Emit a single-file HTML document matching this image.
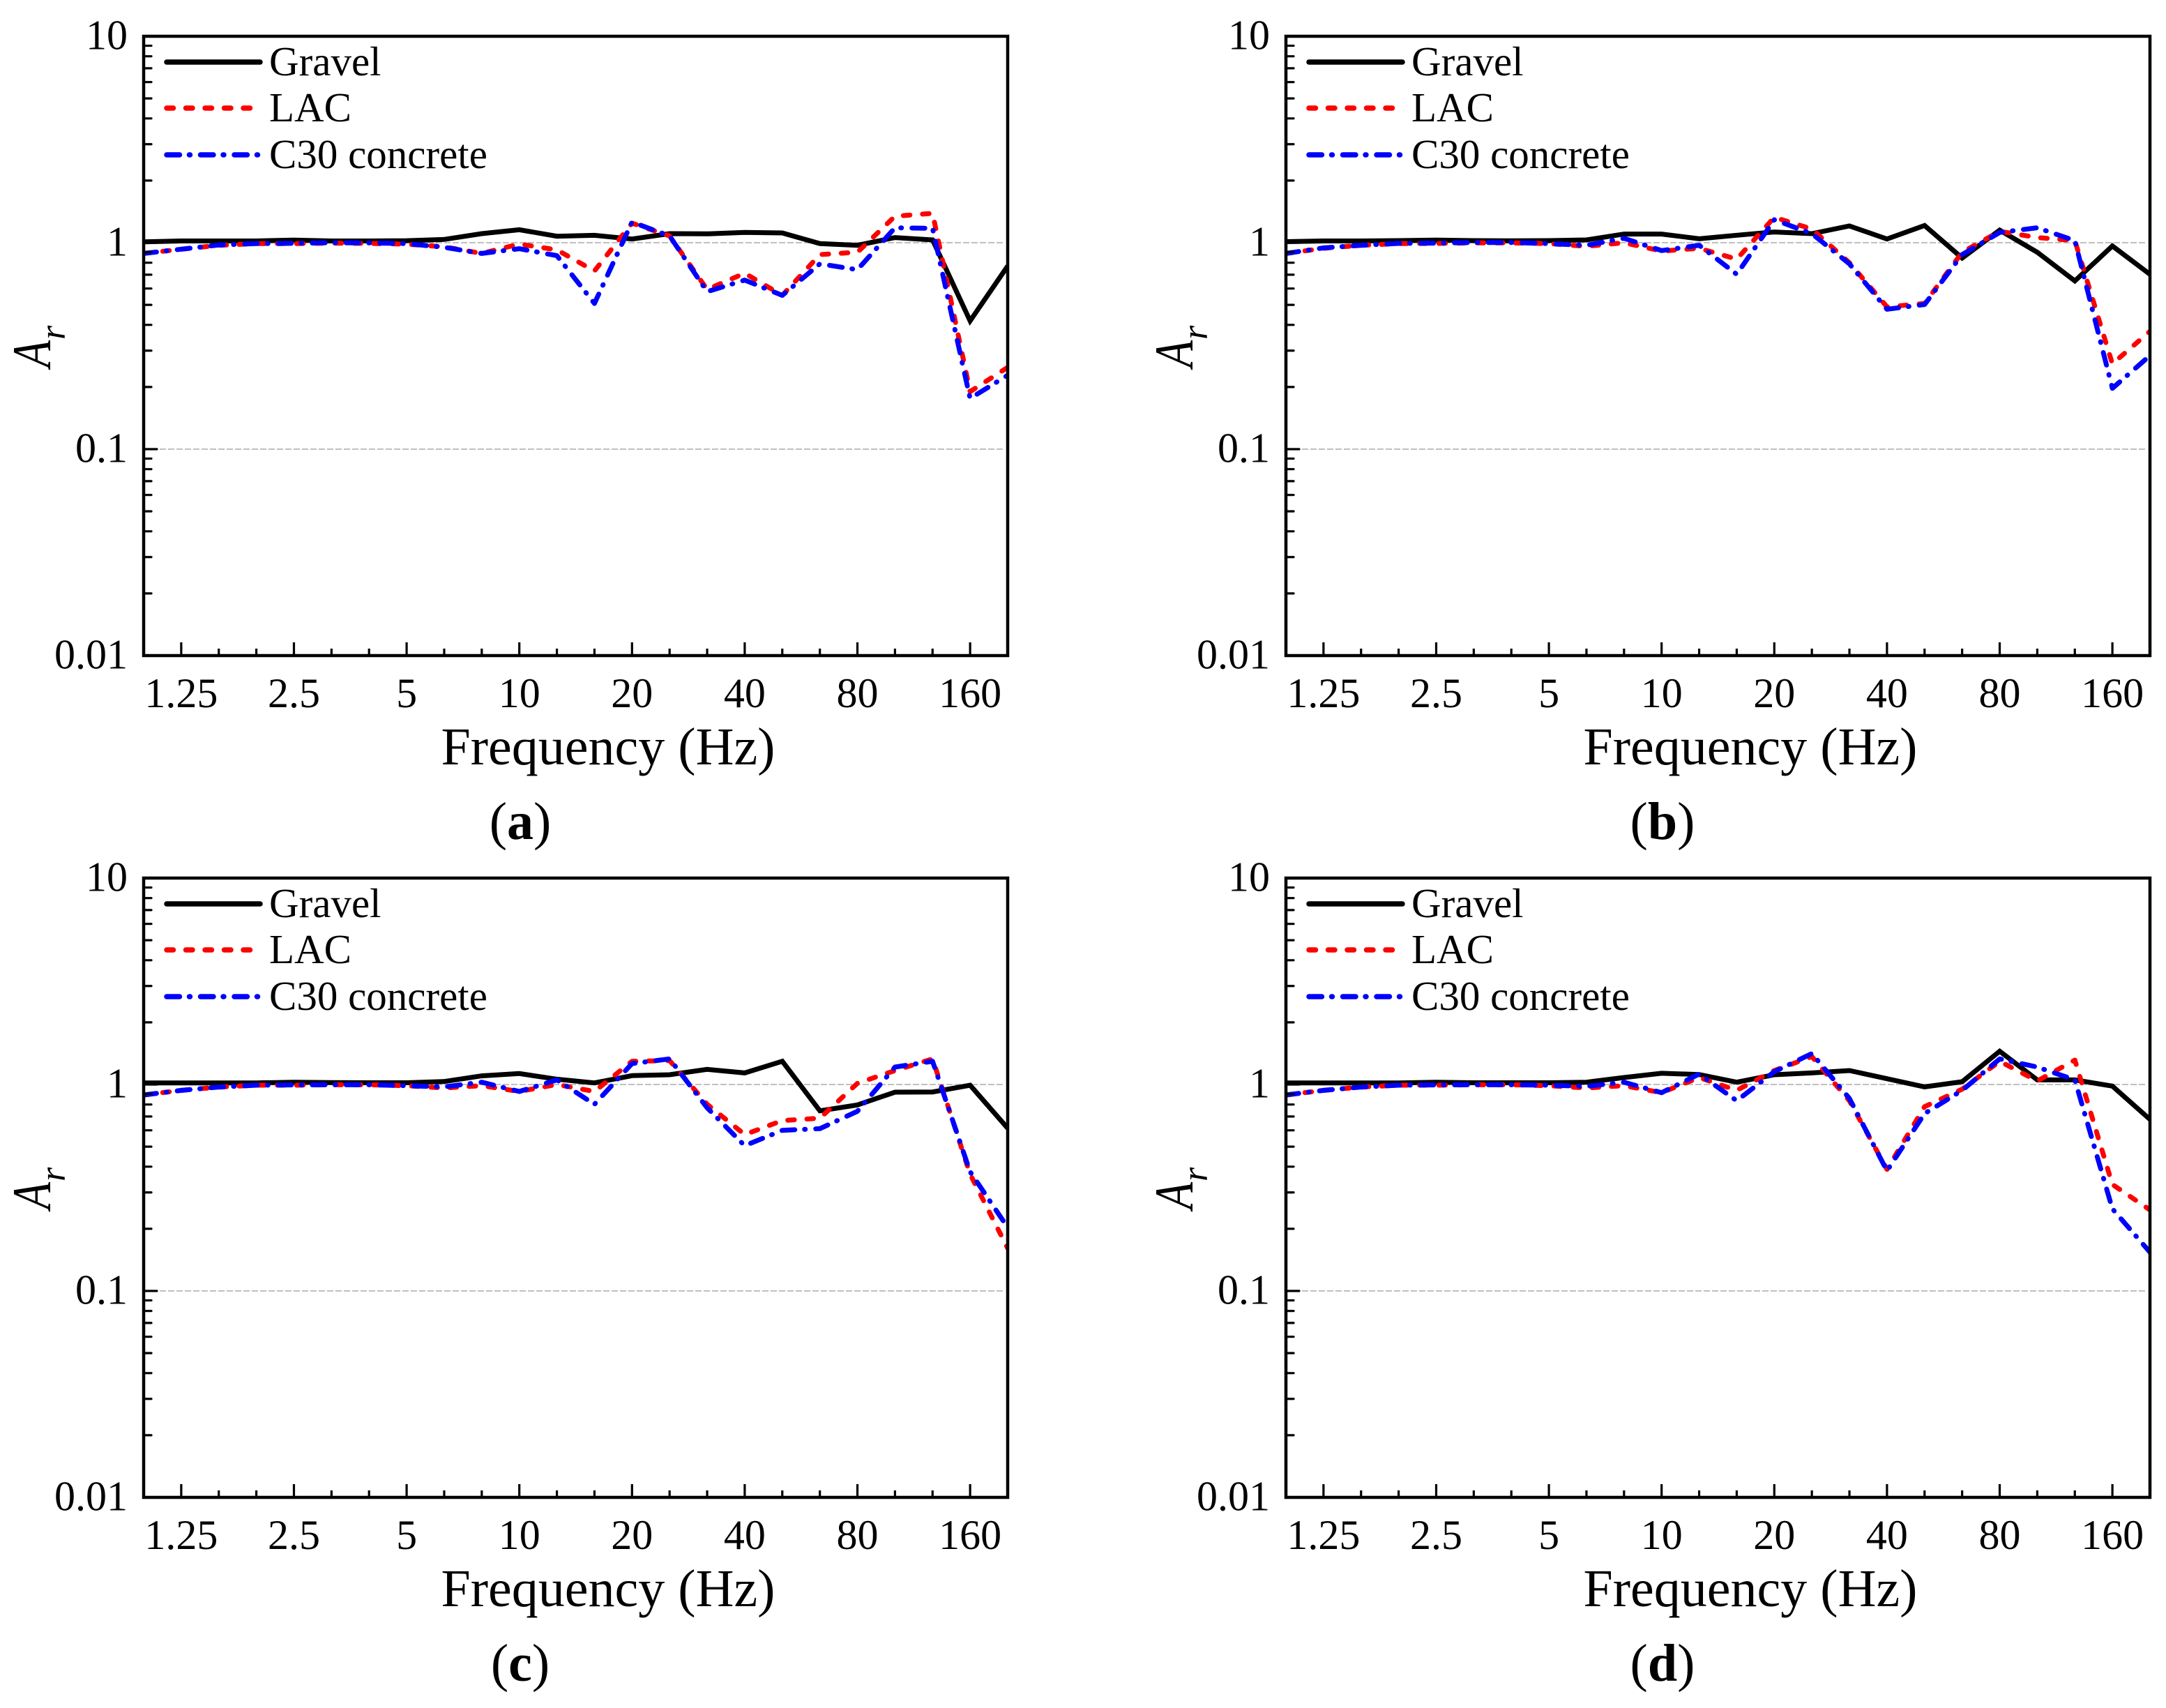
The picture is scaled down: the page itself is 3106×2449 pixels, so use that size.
<!DOCTYPE html>
<html lang="en">
<head>
<meta charset="utf-8">
<title>Frequency response of Ar for gravel, LAC and C30 concrete</title>
<style>
html,body{margin:0;padding:0;background:#fff}
svg{display:block}
text{font-family:"Liberation Serif","Times New Roman",serif;fill:#000}
</style>
</head>
<body>
<svg id="figure" xmlns="http://www.w3.org/2000/svg" width="3106" height="2449" viewBox="0 0 3106 2449"></svg>
<script>
// Data: one-third-octave frequency bands (Hz)
const frequencies = [1,1.25,1.6,2,2.5,3.15,4,5,6.3,8,10,12.5,16,20,25,31.5,40,50,63,80,100,125,160,200];
const xTickLabels = ['1.25','2.5','5','10','20','40','80','160'];
const xTickValues = [1.25,2.5,5,10,20,40,80,160];
const yTickValues = [10,1,0.1,0.01];
const yTickLabels = ['10','1','0.1','0.01'];
const gridValues = [1,0.1];
const seriesNames = ['Gravel','LAC','C30 concrete'];

const gravelA = [1.01,1.02,1.02,1.02,1.03,1.02,1.02,1.023,1.037,1.106,1.156,1.075,1.086,1.042,1.106,1.104,1.121,1.115,0.99,0.972,1.059,1.032,0.418,0.771];
const lacA = [0.887,0.93,0.972,0.99,0.99,0.995,0.992,0.984,0.955,0.887,0.985,0.923,0.73,1.243,1.078,0.594,0.712,0.556,0.876,0.899,1.344,1.387,0.19,0.249];
const c30A = [0.887,0.93,0.975,0.99,0.993,1,0.998,0.99,0.95,0.887,0.935,0.865,0.508,1.259,1.078,0.579,0.659,0.556,0.79,0.74,1.181,1.174,0.176,0.228];

const gravelB = [1.012,1.02,1.02,1.024,1.029,1.024,1.021,1.024,1.032,1.101,1.101,1.045,1.087,1.127,1.106,1.205,1.042,1.212,0.843,1.15,0.899,0.653,0.964,0.703];
const lacB = [0.887,0.94,0.972,0.99,0.992,0.998,0.998,0.99,0.96,1,0.911,0.94,0.832,1.327,1.165,0.8,0.489,0.508,0.899,1.135,1.059,1.024,0.259,0.372];
const c30B = [0.887,0.944,0.972,0.992,0.995,1.002,1.002,0.99,0.972,1.05,0.916,0.972,0.703,1.292,1.106,0.79,0.476,0.502,0.876,1.121,1.181,1.024,0.197,0.284];

const gravelC = [1.018,1.018,1.018,1.018,1.026,1.022,1.02,1.02,1.034,1.101,1.13,1.061,1.018,1.104,1.115,1.184,1.138,1.296,0.746,0.796,0.918,0.92,0.992,0.614];
const lacC = [0.89,0.937,0.972,0.992,0.992,0.997,0.997,0.987,0.962,0.987,0.925,1,0.925,1.296,1.306,0.802,0.572,0.669,0.687,1.013,1.168,1.33,0.368,0.161];
const c30C = [0.89,0.937,0.972,0.992,0.995,0.997,0.997,0.987,0.974,1.026,0.925,1.053,0.802,1.263,1.33,0.771,0.505,0.6,0.611,0.742,1.215,1.296,0.378,0.203];

const gravelD = [1.018,1.018,1.018,1.018,1.026,1.02,1.02,1.02,1.026,1.081,1.133,1.118,1.026,1.115,1.138,1.168,1.067,0.974,1.032,1.449,1.053,1.053,0.982,0.678];
const lacD = [0.89,0.937,0.972,0.992,0.992,0.997,0.997,0.987,0.962,0.987,0.913,1.081,0.937,1.168,1.365,0.834,0.388,0.781,0.949,1.296,1.04,1.313,0.328,0.247];
const c30D = [0.89,0.937,0.972,0.992,0.995,0.997,0.997,0.992,0.98,1.026,0.913,1.124,0.834,1.153,1.412,0.856,0.382,0.723,0.937,1.33,1.215,1.053,0.25,0.154];

const panelLetters = ['a','b','c','d'];
const panelGravel = [gravelA,gravelB,gravelC,gravelD];
const panelLac = [lacA,lacB,lacC,lacD];
const panelC30 = [c30A,c30B,c30C,c30D];

// Layout
const NS = 'http://www.w3.org/2000/svg';
const root = document.getElementById('figure');
const plotW = 1239, plotH = 888;
const originsX = [206,1844,206,1844];
const originsY = [52,52,1259,1259];

function make(tag, attrs, parent, txt){
  const el = document.createElementNS(NS, tag);
  for (const k in attrs) el.setAttribute(k, attrs[k]);
  if (txt !== undefined) el.textContent = txt;
  parent.appendChild(el);
  return el;
}
// Axis functions (panel-local pixels): categorical third-octave x, log10 y
function xOfIndex(i){ return i / (frequencies.length - 1) * plotW; }
function yScale(v){ return (1 - Math.log10(v)) / 3 * plotH; }

const lineStyles = [
  {stroke:'#000000', width:7, dash:'', cap:'butt', key:'gravel'},
  {stroke:'#ff0000', width:7, dash:'9.5 18', cap:'round', key:'lac'},
  {stroke:'#0000ff', width:7, dash:'18.5 14 1 15', cap:'round', key:'c30-concrete'}
];

panelLetters.forEach(function(letter, p){
  const g = make('g', {transform:'translate('+originsX[p]+','+originsY[p]+')'}, root);
  
  

  const clipId = 'clip-' + letter;
  const defs = make('defs', {}, g);
  const cp = make('clipPath', {id:clipId}, defs);
  make('rect', {x:0, y:0, width:plotW, height:plotH}, cp);

  // gridlines
  gridValues.forEach(function(v){
    const grid = make('line', {x1:23, x2:plotW-4, y1:yScale(v), y2:yScale(v), stroke:'#c0c0c0', 'stroke-width':2, 'stroke-dasharray':'9 3'}, g);
    
    
  });

  // series
  const seriesData = [panelGravel[p], panelLac[p], panelC30[p]];
  seriesData.forEach(function(values, s){
    const st = lineStyles[s];
    const pts = values.map(function(v, i){ return xOfIndex(i).toFixed(1) + ',' + yScale(v).toFixed(1); }).join(' ');
    const attrs = {points:pts, fill:'none', stroke:st.stroke, 'stroke-width':st.width, 'stroke-linecap':st.cap, 'stroke-linejoin':'round', 'clip-path':'url(#'+clipId+')'};
    if (st.dash) attrs['stroke-dasharray'] = st.dash;
    if (s === 0) attrs['stroke-linejoin'] = 'miter';
    const line = make('polyline', attrs, g);
    
    
  });

  // y minor/major ticks
  for (let d = 0; d < 3; d++){
    for (let m = 2; m <= 9; m++){
      const v = Math.pow(10, d - 2) * m;
      const t = make('line', {x1:0, x2:11, y1:yScale(v), y2:yScale(v), stroke:'#000', 'stroke-width':3.2, 'stroke-linecap':'round'}, g);
      
      
    }
  }
  yTickValues.forEach(function(v, i){
    const t = make('line', {x1:0, x2:19, y1:yScale(v), y2:yScale(v), stroke:'#000', 'stroke-width':3.2, 'stroke-linecap':'round'}, g);
    
    
    const lb = make('text', {x:-23, y:yScale(v)+18.5, 'text-anchor':'end', 'font-size':60}, g, yTickLabels[i]);
    
    
  });

  // x ticks
  frequencies.forEach(function(f, i){
    if (i === 0 || i === frequencies.length - 1) return;
    const major = xTickValues.indexOf(f) >= 0;
    const t = make('line', {x1:xOfIndex(i), x2:xOfIndex(i), y1:plotH, y2:plotH-(major?19:10), stroke:'#000', 'stroke-width':3.2}, g);
    
    
  });
  xTickValues.forEach(function(f, i){
    const idx = frequencies.indexOf(f);
    const lb = make('text', {x:xOfIndex(idx), y:plotH+74, 'text-anchor':'middle', 'font-size':60}, g, xTickLabels[i]);
    
    
  });

  // frame
  const frame = make('rect', {x:0, y:0, width:plotW, height:plotH, fill:'none', stroke:'#000', 'stroke-width':4.5}, g);
  
  

  // legend
  const legendY = [37,103,170];
  const legendText = [56,122,189];
  seriesNames.forEach(function(name, s){
    const st = lineStyles[s];
    const attrs = {x1:33, x2:s === 1 ? 154 : 167, y1:legendY[s], y2:legendY[s], stroke:st.stroke, 'stroke-width':7.5, 'stroke-linecap':'round'};
    if (st.dash) attrs['stroke-dasharray'] = st.dash;
    const key = make('line', attrs, g);
    
    
    const lb = make('text', {x:180, y:legendText[s], 'font-size':59}, g, name);
    
    
  });

  // axis titles
  const xt = make('text', {x:666, y:plotH+156, 'text-anchor':'middle', 'font-size':76}, g, 'Frequency (Hz)');
  
  

  const yt = make('g', {}, g);
  
  
  make('text', {transform:'translate(-134,475) rotate(-90) scale(0.82,1)', 'font-size':78, 'font-style':'italic'}, yt, 'A');
  make('text', {transform:'translate(-113,435) rotate(-90)', 'font-size':52, 'font-style':'italic'}, yt, 'r');

  // panel caption
  const cap = make('text', {x:540, y:plotH+263, 'text-anchor':'middle', 'font-size':76}, g);
  
  
  make('tspan', {}, cap, '(');
  make('tspan', {'font-weight':'bold'}, cap, letter);
  make('tspan', {}, cap, ')');
});
</script>
</body>
</html>
